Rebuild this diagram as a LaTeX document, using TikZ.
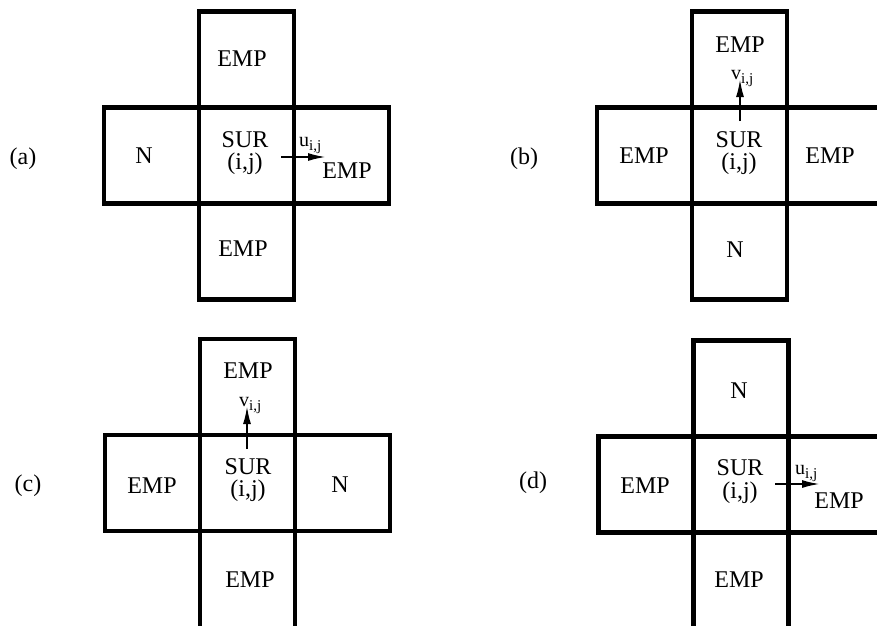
\documentclass[tikz,border=0pt]{standalone}
\usepackage{fontspec}
\setmainfont{Liberation Serif}
\usetikzlibrary{arrows.meta}
% lowered index after a velocity symbol
\newcommand{\velidx}[1]{\raisebox{-4pt}{\fontsize{15}{15}\selectfont #1}}

\begin{document}
\begin{tikzpicture}[x=1pt,y=-1pt,
  cellbox/.style={draw, line width=4.2pt, inner sep=0pt, outer sep=0pt,
                  minimum width=95pt, minimum height=96pt},
  txt/.style={inner sep=0pt, anchor=base, font=\fontsize{24}{24}\selectfont},
  vel/.style={inner sep=0pt, anchor=base west, font=\fontsize{20}{20}\selectfont},
  flow/.style={line width=2pt, -{Latex[length=18pt,width=8pt]}}]
\useasboundingbox (0,0) rectangle (877,625);
\clip (0,0) rectangle (877,625);

% ---------- (a) ----------
\node[cellbox] (a-c) at (246.5,155.5) {};
\node[cellbox, anchor=south] (a-t) at (a-c.north) {};
\node[cellbox, anchor=north] (a-b) at (a-c.south) {};
\node[cellbox, anchor=east]  (a-l) at (a-c.west) {};
\node[cellbox, anchor=west]  (a-r) at (a-c.east) {};
\node[txt] (a-tag) at (23,164) {(a)};
\node[txt] (a-n)   at (144,163) {N};
\node[txt] (a-top) at (242,66) {EMP};
\node[txt] (a-s1)  at (245,147) {SUR};
\node[txt] (a-s2)  at (245,169) {(i,j)};
\node[txt] (a-bot) at (243,256) {EMP};
\node[txt] (a-rt)  at (347,178) {EMP};
\node[vel] (a-u)   at (299,146) {u\velidx{i,j}};
\coordinate (a-f0) at (281,157);
\coordinate (a-f1) at (326,157);
\draw[flow] (a-f0) -- (a-f1);

% ---------- (b) ----------
\node[cellbox] (b-c) at (739.5,155.5) {};
\node[cellbox, anchor=south] (b-t) at (b-c.north) {};
\node[cellbox, anchor=north] (b-b) at (b-c.south) {};
\node[cellbox, anchor=east]  (b-l) at (b-c.west) {};
\node[cellbox, anchor=west, minimum width=130pt] (b-r) at (b-c.east) {};
\node[txt] (b-tag) at (524,164) {(b)};
\node[txt] (b-lt)  at (644,163) {EMP};
\node[txt] (b-s1)  at (739,147) {SUR};
\node[txt] (b-s2)  at (739,169) {(i,j)};
\node[txt] (b-rt)  at (830,163) {EMP};
\node[txt] (b-top) at (740,52) {EMP};
\node[txt] (b-bot) at (735,257) {N};
\node[vel] (b-v)   at (731,79) {v\velidx{i,j}};
\coordinate (b-f0) at (740,121);
\coordinate (b-f1) at (740,79);
\draw[flow] (b-f0) -- (b-f1);

% ---------- (c) ----------
\node[cellbox] (c-c) at (247.5,483) {};
\node[cellbox, anchor=south] (c-t) at (c-c.north) {};
\node[cellbox, anchor=north, minimum height=130pt] (c-b) at (c-c.south) {};
\node[cellbox, anchor=east]  (c-l) at (c-c.west) {};
\node[cellbox, anchor=west]  (c-r) at (c-c.east) {};
\node[txt] (c-tag) at (28,491) {(c)};
\node[txt] (c-lt)  at (152,493) {EMP};
\node[txt] (c-s1)  at (248,474) {SUR};
\node[txt] (c-s2)  at (248,496) {(i,j)};
\node[txt] (c-rt)  at (340,492) {N};
\node[txt] (c-top) at (248,378) {EMP};
\node[txt] (c-bot) at (250,587) {EMP};
\node[vel] (c-v)   at (239,406) {v\velidx{i,j}};
\coordinate (c-f0) at (247,449);
\coordinate (c-f1) at (247,406);
\draw[flow] (c-f0) -- (c-f1);

% ---------- (d) ----------
\node[cellbox] (d-c) at (741,484.5) {};
\node[cellbox, anchor=south] (d-t) at (d-c.north) {};
\node[cellbox, anchor=north, minimum height=130pt] (d-b) at (d-c.south) {};
\node[cellbox, anchor=east]  (d-l) at (d-c.west) {};
\node[cellbox, anchor=west, minimum width=130pt] (d-r) at (d-c.east) {};
\node[txt] (d-tag) at (533,488) {(d)};
\node[txt] (d-lt)  at (645,493) {EMP};
\node[txt] (d-s1)  at (740,475) {SUR};
\node[txt] (d-s2)  at (740,498) {(i,j)};
\node[txt] (d-rt)  at (839,508) {EMP};
\node[txt] (d-top) at (739,398) {N};
\node[txt] (d-bot) at (739,587) {EMP};
\node[vel] (d-u)   at (795,474) {u\velidx{i,j}};
\coordinate (d-f0) at (775,484);
\coordinate (d-f1) at (820,484);
\draw[flow] (d-f0) -- (d-f1);
\end{tikzpicture}
\end{document}
